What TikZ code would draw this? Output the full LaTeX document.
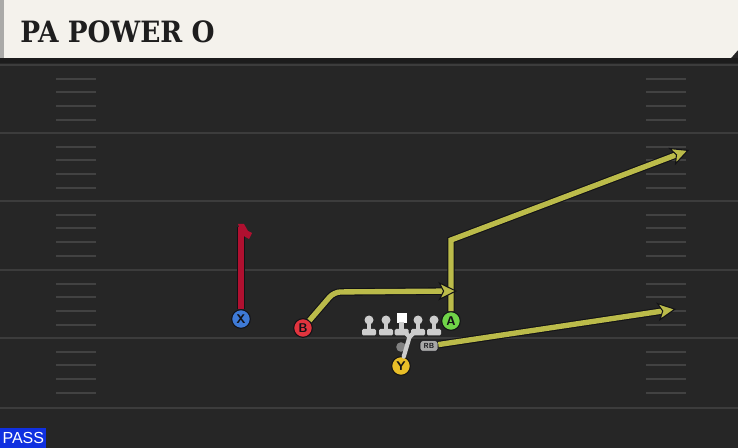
\documentclass[tikz,border=0pt]{standalone}
\usepackage{fontspec}
\newfontfamily\titlefont[FakeStretch=0.9]{DejaVu Serif}
\newfontfamily\tagfont{Liberation Sans}
\usepackage{tikz}
\usetikzlibrary{arrows.meta, positioning}

\definecolor{fieldbg}{RGB}{38,38,38}
\definecolor{yardline}{RGB}{60,60,60}
\definecolor{hashmark}{RGB}{66,66,66}
\definecolor{headerbg}{RGB}{244,242,236}
\definecolor{headerstripe}{RGB}{170,170,168}
\definecolor{shadowband}{RGB}{28,28,28}
\definecolor{titleink}{RGB}{30,30,30}
\definecolor{routeyel}{RGB}{187,187,74}
\definecolor{routered}{RGB}{176,16,48}
\definecolor{outl}{RGB}{18,18,22}
\definecolor{xblue}{RGB}{62,122,214}
\definecolor{bred}{RGB}{226,52,62}
\definecolor{agreen}{RGB}{112,212,72}
\definecolor{yyel}{RGB}{232,190,40}
\definecolor{olgray}{RGB}{205,205,205}
\definecolor{qbgray}{RGB}{130,130,130}
\definecolor{passblue}{RGB}{16,48,224}

\tikzset{
  player/.style={circle, draw=outl, line width=0.8pt, minimum size=14pt, inner sep=0pt,
    font=\sffamily\bfseries\fontsize{9.5}{9.5}\selectfont, text=outl},
  route/.style={line width=4pt, draw=routeyel, line join=miter,
    preaction={draw=outl, line width=5.6pt, -, shorten >=9pt},
    -{Stealth[length=14pt, width=14pt, inset=3.5pt, fill=routeyel, color=outl, line width=0.8pt]}},
  redroute/.style={line width=4pt, draw=routered, preaction={draw=outl, line width=5.4pt}},
  fakeline/.style={line width=3.2pt, draw=olgray, line cap=round},
  rbtag/.style={rectangle, rounded corners=2pt, draw=outl, line width=0.5pt, fill=qbgray!70!white,
    minimum width=13.5pt, minimum height=8pt, inner sep=0pt,
    font=\sffamily\bfseries\fontsize{5.5}{5.5}\selectfont, text=outl},
  passtag/.style={rectangle, fill=passblue, minimum width=34.5pt, minimum height=15pt, inner sep=0pt,
    font=\tagfont\fontsize{12}{12}\selectfont, text=white}
}

\begin{document}
\begin{tikzpicture}[x=0.75pt,y=0.75pt,yscale=-1,xscale=1]
\useasboundingbox (0,0) rectangle (738,448);

% field
\fill[fieldbg] (0,0) rectangle (738,448);
\foreach \yl in {65,133,201,270,338,408}
  \draw[yardline, line width=1.6pt] (0,\yl) -- (738,\yl);
\foreach \yl in {65,133,201,270,338}
  \foreach \k in {1,...,4} {
    \draw[hashmark, line width=1.4pt] (56,\yl+13.7*\k) -- (96,\yl+13.7*\k);
    \draw[hashmark, line width=1.4pt] (646,\yl+13.7*\k) -- (686,\yl+13.7*\k);
  }

% header
\fill[shadowband] (0,58) rectangle (738,63);
\fill[headerbg] (0,0) -- (738,0) -- (738,50) -- (731,58) -- (0,58) -- cycle;
\fill[headerstripe] (0,0) rectangle (4,58);
\node[anchor=base west, inner sep=0pt, text=titleink,
  font=\titlefont\bfseries\fontsize{22}{22}\selectfont] (title) at (20,43) {PA POWER O};

% offensive line
\foreach \lx in {369,386,418,434} {
  \fill[olgray] (\lx,320) circle[radius=4.5];
  \fill[olgray] (\lx-2.3,320) rectangle (\lx+2.3,331);
  \fill[olgray, rounded corners=1pt] (\lx-7,329) rectangle (\lx+7,335.5);
}
\fill[white] (397,313.5) rectangle (406.5,323);
\fill[olgray] (399.4,322) rectangle (404,331);
\fill[olgray, rounded corners=1pt] (394.7,329) rectangle (408.7,335.5);
\fill[qbgray] (401,347) circle[radius=4.8];

% players
\node[player, fill=xblue] (X) at (241,319) {X};
\node[player, fill=bred] (B) at (303,328) {B};
\node[player, fill=agreen] (A) at (451,321) {A};
\node[player, fill=yyel] (Y) at (401,366) {Y};
\node[rbtag] (RB) at (429,346) {RB};
\node[passtag, anchor=south west] (pass) at (0,448) {PASS};

% route points
\coordinate (Xtop) at (241,227);
\coordinate (Bbreak) at (334,292);
\coordinate (Bend) at (457,291);
\coordinate (Abreak) at (451,240);
\coordinate (Aend) at (689,150);
\coordinate (RBend) at (676,309);
\coordinate (fork) at (409.5,337);
\coordinate (fakeL) at (404,331);
\coordinate (fakeR) at (415,331.5);

% routes
\draw[redroute] (X) -- (Xtop);
\fill[routered] ([shift={(-3,-3)}]Xtop) -- ++(6,0) -- ++(4,7) -- ++(4,2) -- ++(-3,6) -- ++(-7,-4) -- cycle;
\draw[route] (A) -- (Abreak) -- (Aend);
\draw[route, rounded corners=5pt] (B) -- (Bbreak) -- (Bend);
\draw[route] (RB) -- (RBend);
\draw[fakeline] (Y) -- (fork) -- (fakeL);
\draw[fakeline] (fork) -- (fakeR);

\end{tikzpicture}
\end{document}
